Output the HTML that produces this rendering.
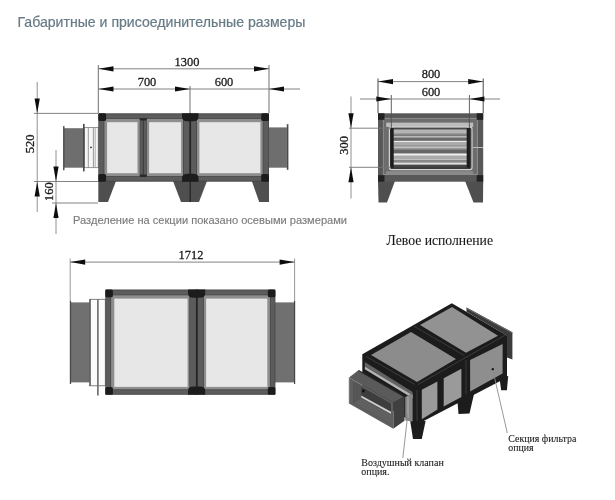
<!DOCTYPE html>
<html><head><meta charset="utf-8">
<style>
html,body{margin:0;padding:0;background:#fff;}
body{width:615px;height:500px;overflow:hidden;position:relative;font-family:"Liberation Sans",sans-serif;}
svg{position:absolute;left:0;top:0;}
.t{font-family:"Liberation Serif",serif;fill:#161616;stroke:#222;stroke-width:0.08px;}
.d{stroke-width:0.3px;}
.s{font-family:"Liberation Sans",sans-serif;}
</style></head><body>
<svg width="615" height="500" viewBox="0 0 615 500">
<defs>
<filter id="bl" x="-5%" y="-5%" width="110%" height="110%"><feGaussianBlur stdDeviation="0.65"/></filter>
<path id="ar" d="M0 0 L-15 -2.6 L-15 2.6 Z" fill="#111"/>
<filter id="bl2" x="-5%" y="-30%" width="110%" height="160%"><feGaussianBlur stdDeviation="0.45"/></filter>
<linearGradient id="lv" x1="0" y1="0" x2="0" y2="1">
<stop offset="0" stop-color="#f2f2f2"/><stop offset="0.14" stop-color="#e8e8e8"/><stop offset="0.2" stop-color="#b0b0b0"/><stop offset="0.5" stop-color="#9c9c9c"/><stop offset="0.72" stop-color="#8a8a8a"/><stop offset="0.8" stop-color="#626262"/><stop offset="1" stop-color="#6a6a6a"/>
</linearGradient>
</defs>
<g filter="url(#bl)">
<!-- TITLE -->
<text class="s" x="17.5" y="26.5" font-size="14.1" fill="#677b86" stroke="#677b86" stroke-width="0.22">Габаритные и присоединительные размеры</text>

<!-- ================= FRONT VIEW ================= -->
<g id="front">
<!-- left duct -->
<rect x="63.8" y="128.2" width="19.4" height="39.5" fill="#6e6e6e"/>
<rect x="63.1" y="126.1" width="1.4" height="44.2" fill="#4a4a4a"/>
<rect x="84.6" y="127.4" width="13.6" height="40.3" fill="#f6f6f6" stroke="#707070" stroke-width="0.7"/>
<rect x="83" y="123.9" width="1.6" height="47.5" fill="#4a4a4a"/>
<line x1="88.3" y1="127.4" x2="88.3" y2="167.7" stroke="#808080" stroke-width="0.8"/>
<line x1="93.4" y1="127.4" x2="93.4" y2="167.7" stroke="#808080" stroke-width="0.8"/>
<line x1="95.2" y1="127.4" x2="95.2" y2="167.7" stroke="#909090" stroke-width="0.7"/>
<circle cx="91" cy="147.4" r="0.9" fill="#333"/>
<!-- right duct -->
<rect x="268.9" y="127.4" width="18" height="40.3" fill="#6e6e6e"/>
<rect x="286.8" y="124.2" width="1.6" height="45.6" fill="#4a4a4a"/>
<!-- legs -->
<polygon points="98.3,181 116,181 108,202 98.3,202" fill="#505050"/>
<polygon points="173,181 207,181 199,202 181,202" fill="#505050"/>
<line x1="190.2" y1="181" x2="190.2" y2="202" stroke="#262626" stroke-width="1.4"/>
<polygon points="251.8,181 269,181 269,202 259.2,202" fill="#505050"/>
<!-- body -->
<rect x="98.3" y="113.3" width="170.7" height="68.4" fill="#484848"/>
<rect x="99.1" y="114.3" width="169.1" height="66.4" fill="#5c5c5c"/>
<rect x="103.6" y="118.1" width="80.2" height="58.8" fill="#484848"/>
<rect x="196.2" y="118.1" width="67.3" height="58.8" fill="#484848"/>
<rect x="104.4" y="118.9" width="78.6" height="57.2" fill="#8e8e8e"/>
<rect x="197" y="118.9" width="65.7" height="57.2" fill="#8e8e8e"/>
<!-- mid post -->
<rect x="139.7" y="118.9" width="7.2" height="57.2" fill="#4c4c4c"/>
<rect x="140.6" y="118.9" width="5.4" height="57.2" fill="#5c5c5c"/>
<rect x="142.7" y="118.9" width="1.2" height="57.2" fill="#3c3c3c"/>
<rect x="139.7" y="118" width="7.2" height="2.4" rx="1" fill="#2a2a2a"/>
<rect x="139.7" y="174.6" width="7.2" height="2.4" rx="1" fill="#2a2a2a"/>
<!-- panels -->
<rect x="107.1" y="122.2" width="30.4" height="51" fill="#e7e7e7"/>
<rect x="149.1" y="122.2" width="32" height="51" fill="#e7e7e7"/>
<rect x="199.4" y="122.2" width="61" height="51" fill="#e7e7e7"/>
<!-- centre split -->
<rect x="189.3" y="113.3" width="1.8" height="68.4" fill="#262626"/>
<!-- corners -->
<rect x="98.3" y="113.3" width="7.8" height="7.8" rx="1.5" fill="#1e1e1e"/>
<rect x="98.3" y="173.9" width="7.8" height="7.8" rx="1.5" fill="#1e1e1e"/>
<rect x="261.2" y="113.3" width="7.8" height="7.8" rx="1.5" fill="#1e1e1e"/>
<rect x="261.2" y="173.9" width="7.8" height="7.8" rx="1.5" fill="#1e1e1e"/>
<path d="M182 113.3 H198.5 V117 Q198.5 121.2 193 121.2 H187.5 Q182 121.2 182 117 Z" fill="#1e1e1e"/>
<path d="M182 181.7 H198.5 V178 Q198.5 173.8 193 173.8 H187.5 Q182 173.8 182 178 Z" fill="#1e1e1e"/>
</g>

<!-- front dims -->
<g stroke="#747474" stroke-width="0.9" fill="none">
<line x1="98.3" y1="65" x2="98.3" y2="113" stroke="#5e5e5e"/>
<line x1="269" y1="65" x2="269" y2="113" stroke="#5e5e5e"/>
<line x1="190" y1="86" x2="190" y2="113" stroke="#5e5e5e"/>
<line x1="98.5" y1="68.8" x2="269" y2="68.8"/>
<line x1="98.5" y1="89" x2="300" y2="89"/>
<!-- left -->
<line x1="37.2" y1="82" x2="37.2" y2="212" stroke="#858585"/>
<line x1="34" y1="113.4" x2="98" y2="113.4"/>
<line x1="34" y1="181.5" x2="98" y2="181.5"/>
<line x1="56" y1="150" x2="56" y2="234" stroke="#858585"/>
<line x1="52" y1="203" x2="98" y2="203"/>
</g>
<use href="#ar" transform="translate(98.5,68.8) rotate(180)"/>
<use href="#ar" transform="translate(269,68.8)"/>
<use href="#ar" transform="translate(98.5,89) rotate(180)"/>
<use href="#ar" transform="translate(190,89)"/>
<use href="#ar" transform="translate(190,89) rotate(180)" opacity="0"/>
<use href="#ar" transform="translate(269,89) rotate(180)"/>
<use href="#ar" transform="translate(37.2,113.4) rotate(90)"/>
<use href="#ar" transform="translate(37.2,181.5) rotate(-90)"/>
<use href="#ar" transform="translate(56,181.5) rotate(90)"/>
<use href="#ar" transform="translate(56,203) rotate(-90)"/>
<text class="t d" font-size="13.4" text-anchor="middle" transform="translate(187,65.5) scale(0.93,1)">1300</text>
<text class="t d" font-size="13.4" text-anchor="middle" transform="translate(147,86) scale(0.93,1)">700</text>
<text class="t d" font-size="13.4" text-anchor="middle" transform="translate(224,86) scale(0.93,1)">600</text>
<text class="t d" font-size="13.4" text-anchor="middle" transform="translate(34,143.8) rotate(-90) scale(0.93,1)">520</text>
<text class="t d" font-size="13.4" text-anchor="middle" transform="translate(53.2,191.7) rotate(-90) scale(0.93,1)">160</text>
<text class="s" x="73" y="224.3" font-size="11.1" fill="#7c7c7c" stroke="#7c7c7c" stroke-width="0.15">Разделение на секции показано осевыми размерами</text>

<!-- ================= SIDE VIEW ================= -->
<g id="side">
<!-- legs -->
<polygon points="378,181 395,181 387,202.5 378.5,202.5" fill="#505050"/>
<polygon points="465,181 483.2,181 483,202.5 473.5,202.5" fill="#505050"/>
<!-- body -->
<rect x="378" y="113.3" width="105.2" height="68.4" fill="#585858"/>
<rect x="383.4" y="118.4" width="94" height="56.1" fill="#6c6c6c" stroke="#8c8c8c" stroke-width="1"/>
<rect x="386.2" y="122.6" width="87" height="4.4" fill="#bcbcbc"/>
<rect x="386.2" y="171.3" width="87" height="2.6" fill="#8c8c8c"/>
<rect x="389.4" y="127.2" width="82.6" height="42.4" rx="2" fill="#3a3a3a" stroke="#d2d2d2" stroke-width="1.2"/>
<!-- louvers -->
<rect x="393.5" y="127.8" width="73.3" height="1.65" fill="#4a4a4a"/>
<rect x="393.5" y="129.4" width="73.3" height="3.65" fill="#b4b4b4"/>
<rect x="393.5" y="133" width="73.3" height="1.85" fill="#9a9a9a"/>
<rect x="393.5" y="134.8" width="73.3" height="1.25" fill="#7a7a7a"/>
<rect x="393.5" y="136" width="73.3" height="1.85" fill="#b8b8b8"/>
<rect x="393.5" y="137.8" width="73.3" height="3.05" fill="#6a6a6a"/>
<rect x="393.5" y="140.8" width="73.3" height="1.85" fill="#ececec"/>
<rect x="393.5" y="142.6" width="73.3" height="2.45" fill="#aaaaaa"/>
<rect x="393.5" y="145" width="73.3" height="1.25" fill="#989898"/>
<rect x="393.5" y="146.2" width="73.3" height="1.85" fill="#c0c0c0"/>
<rect x="393.5" y="148" width="73.3" height="1.85" fill="#989898"/>
<rect x="393.5" y="149.8" width="73.3" height="3.65" fill="#666666"/>
<rect x="393.5" y="153.4" width="73.3" height="2.45" fill="#f0f0f0"/>
<rect x="393.5" y="155.8" width="73.3" height="2.45" fill="#aaaaaa"/>
<rect x="393.5" y="158.2" width="73.3" height="1.85" fill="#c0c0c0"/>
<rect x="393.5" y="160" width="73.3" height="2.45" fill="#888888"/>
<rect x="393.5" y="162.4" width="73.3" height="2.45" fill="#dcdcdc"/>
<rect x="393.5" y="164.8" width="73.3" height="2.65" fill="#444444"/>
<rect x="390.6" y="128" width="2.9" height="39.6" fill="#1a1a1a"/>
<rect x="466.8" y="128" width="2.9" height="39.6" fill="#1a1a1a"/>
<line x1="473" y1="147.5" x2="483" y2="147.5" stroke="#c4c4c4" stroke-width="0.9"/>
<!-- corners -->
<rect x="378" y="113.3" width="6.5" height="6.5" fill="#222"/>
<rect x="476.7" y="113.3" width="6.5" height="6.5" fill="#222"/>
<rect x="378" y="175.2" width="6.5" height="6.5" fill="#222"/>
<rect x="476.7" y="175.2" width="6.5" height="6.5" fill="#222"/>
</g>
<g stroke="#747474" stroke-width="0.9" fill="none">
<line x1="378" y1="78.5" x2="378" y2="113" stroke="#484848" stroke-width="1"/>
<line x1="483.2" y1="78.5" x2="483.2" y2="113" stroke="#484848" stroke-width="1"/>
<line x1="391.3" y1="95" x2="391.3" y2="128" stroke="#505050"/>
<line x1="469.4" y1="95" x2="469.4" y2="128" stroke="#505050"/>
<line x1="378" y1="81.6" x2="483.2" y2="81.6"/>
<line x1="360" y1="99" x2="500" y2="99"/>
<line x1="351" y1="96.5" x2="351" y2="198.5" stroke="#858585"/>
<line x1="349" y1="128.2" x2="391" y2="128.2"/>
<line x1="349" y1="167.3" x2="391" y2="167.3"/>
</g>
<use href="#ar" transform="translate(378,81.6) rotate(180)"/>
<use href="#ar" transform="translate(483.2,81.6)"/>
<use href="#ar" transform="translate(391.3,99)"/>
<use href="#ar" transform="translate(469.4,99) rotate(180)"/>
<use href="#ar" transform="translate(351,128.2) rotate(90)"/>
<use href="#ar" transform="translate(351,167.3) rotate(-90)"/>
<text class="t d" font-size="13.4" text-anchor="middle" transform="translate(431,78) scale(0.93,1)">800</text>
<text class="t d" font-size="13.4" text-anchor="middle" transform="translate(431,95.5) scale(0.93,1)">600</text>
<text class="t d" font-size="13.4" text-anchor="middle" transform="translate(348.3,145.4) rotate(-90) scale(0.93,1)">300</text>
<text class="t" x="386.5" y="244.6" font-size="13.7" stroke-width="0.2">Левое исполнение</text>

<!-- ================= TOP VIEW ================= -->
<g id="top">
<!-- left duct -->
<rect x="70.4" y="302.4" width="19.4" height="80" fill="#707070"/>
<rect x="69.8" y="301" width="1.3" height="83" fill="#4a4a4a"/>
<rect x="89.9" y="299.3" width="15.4" height="86.5" fill="#fbfbfb" stroke="#666" stroke-width="0.8"/>
<rect x="89.4" y="299" width="1.3" height="87" fill="#555"/>
<rect x="97.1" y="299.3" width="1.6" height="96.2" fill="#6a6a6a"/>
<!-- right duct -->
<rect x="275" y="302.4" width="19.6" height="80" fill="#707070"/>
<rect x="294" y="301" width="1.2" height="83" fill="#444"/>
<!-- body -->
<rect x="105.3" y="289.5" width="170.1" height="105.3" fill="#484848"/>
<rect x="106.1" y="290.5" width="168.5" height="103.3" fill="#5c5c5c"/>
<rect x="110.3" y="294.5" width="79.8" height="95.6" fill="#484848"/>
<rect x="203.1" y="294.5" width="67.6" height="95.6" fill="#484848"/>
<rect x="111.1" y="295.3" width="78.2" height="94" fill="#8e8e8e"/>
<rect x="203.9" y="295.3" width="66" height="94" fill="#8e8e8e"/>
<rect x="114.3" y="298.6" width="73.3" height="88.3" fill="#e7e7e7"/>
<rect x="206.1" y="298.6" width="61.2" height="88.3" fill="#e7e7e7"/>
<rect x="195.9" y="289.5" width="1.9" height="105.3" fill="#262626"/>
<!-- corners -->
<rect x="105.3" y="289.5" width="7.6" height="7.8" rx="1.5" fill="#1e1e1e"/>
<rect x="105.3" y="387" width="7.6" height="7.8" rx="1.5" fill="#1e1e1e"/>
<rect x="267.8" y="289.5" width="7.6" height="7.8" rx="1.5" fill="#1e1e1e"/>
<rect x="267.8" y="387" width="7.6" height="7.8" rx="1.5" fill="#1e1e1e"/>
<path d="M188 289.5 H205.2 V293.5 Q205.2 297.7 200 297.7 H193.5 Q188 297.7 188 293.5 Z" fill="#1e1e1e"/>
<path d="M188 394.8 H205.2 V390.8 Q205.2 386.6 200 386.6 H193.5 Q188 386.6 188 390.8 Z" fill="#1e1e1e"/>
</g>
<g stroke="#747474" stroke-width="0.9" fill="none">
<line x1="70.2" y1="258.5" x2="70.2" y2="301" stroke="#8c8c8c"/>
<line x1="294.6" y1="258.5" x2="294.6" y2="301" stroke="#8c8c8c"/>
<line x1="70.2" y1="262.1" x2="294.6" y2="262.1"/>
</g>
<use href="#ar" transform="translate(70.2,262.1) rotate(180)"/>
<use href="#ar" transform="translate(294.6,262.1)"/>
<text class="t d" font-size="13.4" text-anchor="middle" transform="translate(191,258.5) scale(0.93,1)">1712</text>

<!-- ================= ISO VIEW ================= -->
<g id="iso">
<!-- right (rear) duct -->
<polygon points="466.5,307.4 512.4,332.3 512.4,359.5 507,357.5 507,335.4 466.5,311.8" fill="#3a3a3a"/>
<polygon points="466.5,307.4 512.4,332.3 512.4,333.6 466.5,308.7" fill="#6a6a6a"/>
<!-- legs -->
<polygon points="410.2,421 425.6,421 421.8,439 413,439" fill="#1c1c1c"/>
<polygon points="457,396 474,394 469.5,413.5 458.5,414" fill="#1c1c1c"/>
<polygon points="499.5,378 508.2,376 506.9,390.2 501.2,390.2" fill="#1c1c1c"/>
<!-- body silhouette -->
<polygon points="451.8,303.2 507,335.4 507,377.5 417,424.5 362.3,393 362.3,354.2" fill="#1c1c1c"/>
<!-- top panels -->
<polygon points="371,355 411,332 456,359 417,382" fill="#8c8c8c"/>
<polygon points="420,325 452,307 498,335.8 466,352.8" fill="#929292"/>
<!-- side panels -->
<polygon points="421.8,389.8 437.4,381.4 437.4,409.6 421.8,419.2" fill="#9a9a9a"/>
<polygon points="443.7,378.2 461.4,368.8 461.4,397 443.7,406.6" fill="#9a9a9a"/>
<polygon points="470.1,360.1 502.6,344 502.6,373.4 470.1,391.5" fill="#8e8e8e"/>
<circle cx="492.8" cy="369.2" r="1.2" fill="#1a1a1a"/>
<g stroke="#3e3e3e" stroke-width="0.9" fill="none">
<line x1="418" y1="384.6" x2="505" y2="335.2"/>
<line x1="414" y1="326.2" x2="464.5" y2="355.6"/>
<line x1="366" y1="356.4" x2="415" y2="384.6"/>
<line x1="466" y1="360" x2="466" y2="394"/>
<line x1="417" y1="390" x2="417" y2="421"/>
</g>
<!-- end face bands -->
<polygon points="364.8,362.1 412.6,391.9 412.6,395.5 364.8,366.6" fill="#626262"/>
<polygon points="364.8,366.4 412.6,395.3 412.6,398.2 364.8,369.3" fill="#b4b4b4"/>
<polygon points="405.2,397 410.8,393.8 412.6,394.8 412.6,421.5 405.2,420.5" fill="#858585"/>
<line x1="408" y1="397" x2="408" y2="418" stroke="#c8c8c8" stroke-width="0.7"/>
<!-- duct -->
<polygon points="349,377.4 358.5,370.2 404.5,396.4 393.3,402.7" fill="#5a5a5a"/>
<line x1="358.5" y1="370.6" x2="404.5" y2="396.8" stroke="#262626" stroke-width="1.1"/>
<polygon points="393.3,402.7 404.5,396.4 404.5,420.7 393.3,428.8" fill="#404040"/>
<polygon points="349,377.4 393.3,402.7 393.3,428.8 349,403.6" fill="#5e5e5e"/>
<line x1="349.2" y1="377.4" x2="349.2" y2="403.6" stroke="#8a8a8a" stroke-width="0.8"/>
<polygon points="353.1,381.9 391,403.6 391,424.3 353.1,402.7" fill="#3e3e3e"/>
<polygon points="353.1,381.9 361.2,386.5 361.2,398 353.1,402.7" fill="#565656"/>
<polygon points="353.1,402.7 361.2,398 391,414.5 391,424.3" fill="#606060"/>
<polygon points="361.2,395.4 391,411.7 391,413.9 361.2,397.6" fill="#cfcfcf"/>
<circle cx="363.4" cy="391" r="1.4" fill="#111"/>
</g>
<g stroke="#8c8c8c" stroke-width="0.9" fill="none">
<line x1="407.8" y1="414" x2="402.8" y2="458"/>
<line x1="492.8" y1="370" x2="507.3" y2="433"/>
</g>
<text class="t" x="508.3" y="442" font-size="9.9" fill="#1a1a1a" stroke="#1a1a1a" stroke-width="0.42" filter="url(#bl2)">Секция фильтра</text>
<text class="t" x="508.3" y="451.2" font-size="9.9" fill="#1a1a1a" stroke="#1a1a1a" stroke-width="0.42" filter="url(#bl2)">опция</text>
<text class="t" x="361.3" y="465.9" font-size="10" fill="#1a1a1a" stroke="#1a1a1a" stroke-width="0.42" filter="url(#bl2)">Воздушный клапан</text>
<text class="t" x="361.3" y="474.7" font-size="10" fill="#1a1a1a" stroke="#1a1a1a" stroke-width="0.42" filter="url(#bl2)">опция.</text>

</g>
</svg>
</body></html>
